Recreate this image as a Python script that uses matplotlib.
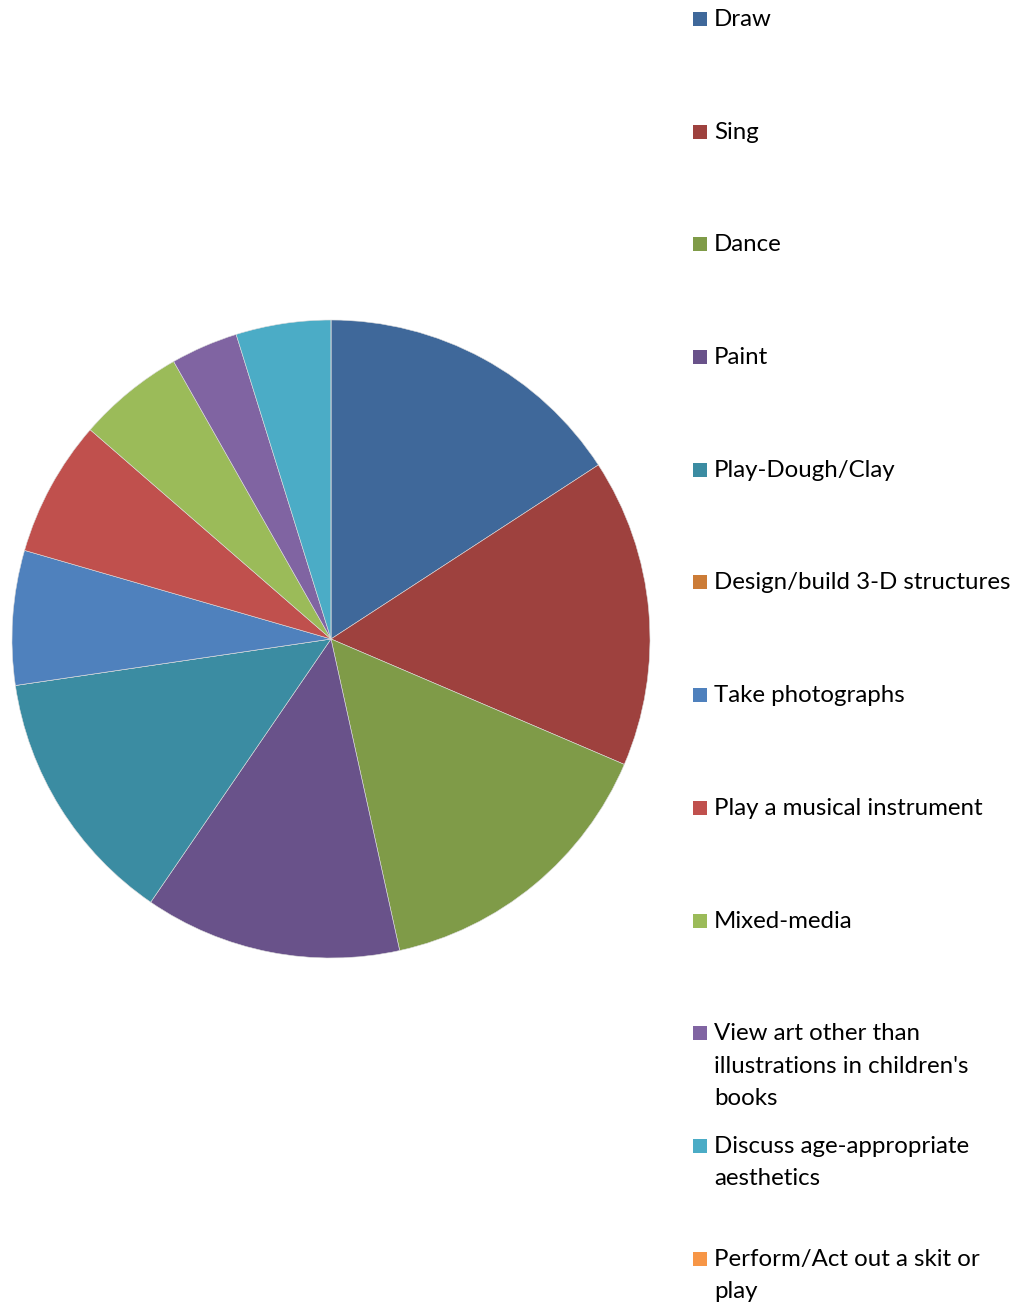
import matplotlib
matplotlib.use("Agg")
import matplotlib.pyplot as plt
from matplotlib.patches import Rectangle

# categories and (estimated) shares in percent
categories = ["Draw", "Sing", "Dance", "Paint", "Play-Dough/Clay",
              "Design/build 3-D structures", "Take photographs",
              "Play a musical instrument", "Mixed-media",
              "View art other than\nillustrations in children's\nbooks",
              "Discuss age-appropriate\naesthetics",
              "Perform/Act out a skit or\nplay"]
values = [15.8, 15.6, 15.1, 13.0, 13.1, 0.0, 6.8, 6.9, 5.4, 3.4, 4.8, 0.0]
colors = ["#3F689A", "#9E413E", "#7F9B48", "#69528A", "#3B8CA2", "#CC7C37",
          "#4F81BD", "#C0504D", "#9BBB59", "#8064A2", "#4BACC6", "#F79646"]

W, H = 1015, 1306
fig = plt.figure(figsize=(W / 100, H / 100), dpi=100)

cx, cy, r = 331, 639, 319
ax = fig.add_axes([(cx - r) / W, (H - cy - r) / H, 2 * r / W, 2 * r / H])
ax.pie(values, colors=colors, startangle=90, counterclock=False, radius=1,
       wedgeprops=dict(linewidth=0.4, edgecolor="#dddddd"))
ax.set_xlim(-1, 1)
ax.set_ylim(-1, 1)
ax.axis("off")

# legend drawn by hand, one text per line so the first line sits by the marker
y0, step, lh = 19, 112.7, 32.3
for i, (lab, col) in enumerate(zip(categories, colors)):
    y = y0 + i * step
    fig.patches.append(Rectangle((693 / W, 1 - (y + 7) / H), 14 / W, 14 / H,
                                 transform=fig.transFigure, facecolor=col,
                                 edgecolor="none"))
    for k, line in enumerate(lab.split("\n")):
        fig.text(714 / W, 1 - (y + 7 + k * lh) / H, line, fontsize=17.3,
                 family="Lato", va="baseline", ha="left", color="black")

fig.savefig("out.png", dpi=100)
